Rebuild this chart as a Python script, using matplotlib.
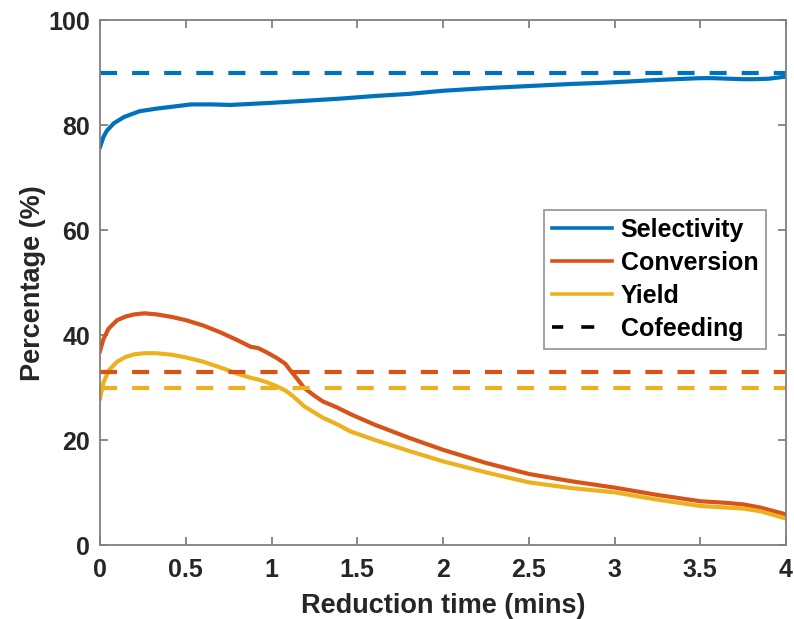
import matplotlib
matplotlib.use("Agg")
import matplotlib.pyplot as plt
from matplotlib.lines import Line2D
import numpy as np

# Data
time_sel = [0, 0.02, 0.04, 0.08, 0.14, 0.23, 0.33, 0.43, 0.53, 0.65, 0.76, 0.88, 1.0, 1.2, 1.4, 1.6, 1.8, 2.0, 2.25, 2.5, 2.75, 2.92, 3.1, 3.21, 3.35, 3.5, 3.58, 3.66, 3.75, 3.81, 3.9, 4.0]
selectivity = [75.9, 77.8, 79.0, 80.4, 81.6, 82.7, 83.2, 83.6, 84.0, 84.0, 83.9, 84.1, 84.3, 84.7, 85.1, 85.6, 86.0, 86.6, 87.1, 87.5, 87.9, 88.1, 88.4, 88.6, 88.8, 89.0, 89.0, 88.9, 88.8, 88.8, 88.9, 89.3]

time_cy = [0, 0.02, 0.05, 0.1, 0.15, 0.2, 0.26, 0.33, 0.42, 0.5, 0.6, 0.7, 0.8, 0.88, 0.92, 0.97, 1.03, 1.08, 1.11, 1.15, 1.19, 1.25, 1.3, 1.38, 1.46, 1.6, 1.8, 2.0, 2.25, 2.5, 2.75, 3.0, 3.25, 3.5, 3.65, 3.75, 3.85, 4.0]
conversion = [37.0, 39.3, 41.3, 42.9, 43.6, 44.0, 44.2, 44.0, 43.5, 42.9, 41.9, 40.6, 39.1, 37.8, 37.6, 36.8, 35.7, 34.6, 33.3, 31.7, 30.0, 28.5, 27.4, 26.3, 25.0, 23.0, 20.5, 18.2, 15.7, 13.6, 12.2, 11.0, 9.6, 8.4, 8.1, 7.8, 7.2, 5.9]
yield_ = [28.0, 31.0, 33.3, 35.0, 35.9, 36.4, 36.6, 36.6, 36.3, 35.8, 35.0, 33.9, 32.7, 31.9, 31.6, 31.1, 30.3, 29.5, 28.8, 27.7, 26.5, 25.3, 24.3, 23.1, 21.7, 20.1, 18.0, 16.0, 13.9, 12.0, 10.9, 10.1, 8.7, 7.5, 7.2, 7.0, 6.5, 5.1]

cofeed_sel = 90
cofeed_conv = 33
cofeed_yield = 30

x_ticks = [0, 0.5, 1, 1.5, 2, 2.5, 3, 3.5, 4]
x_ticklabels = ['0', '0.5', '1', '1.5', '2', '2.5', '3', '3.5', '4']
y_ticks = [0, 20, 40, 60, 80, 100]

blue = '#0072BD'
orange = '#D95319'
gold = '#EDB120'

plt.rcParams['font.family'] = ['Liberation Sans', 'DejaVu Sans']
plt.rcParams['font.weight'] = 'bold'

fig = plt.figure(figsize=(7.94, 6.19), dpi=100)
ax = fig.add_axes([0.126, 0.119, 0.864, 0.848])

lw = 3
dash = (0, (4.1, 3.6))
ax.plot(time_sel, selectivity, color=blue, lw=lw, label='Selectivity')
ax.plot(time_cy, conversion, color=orange, lw=lw, label='Conversion')
ax.plot(time_cy, yield_, color=gold, lw=lw, label='Yield')
ax.axhline(cofeed_sel, color=blue, lw=lw, ls=dash)
ax.axhline(cofeed_conv, color=orange, lw=lw, ls=dash)
ax.axhline(cofeed_yield, color=gold, lw=lw, ls=dash)

ax.set_xlim(0, 4)
ax.set_ylim(0, 100)
ax.set_xticks(x_ticks)
ax.set_xticklabels(x_ticklabels)
ax.set_yticks(y_ticks)

axcol = '#808080'
for s in ['left', 'bottom', 'right', 'top']:
    ax.spines[s].set_color(axcol)
    ax.spines[s].set_linewidth(1.3)
ax.tick_params(direction='in', length=6, width=1.3, color=axcol, labelsize=18,
               labelcolor='#262626', right=True, top=True)
ax.tick_params(axis='x', pad=9)
ax.tick_params(axis='y', pad=7)
for lab in ax.get_xticklabels() + ax.get_yticklabels():
    lab.set_fontweight('bold')

ax.set_xlabel('Reduction time (mins)', fontsize=19.5, fontweight='bold', color='#262626', labelpad=8)
ax.set_ylabel('Percentage (%)', fontsize=19.5, fontweight='bold', color='#262626', labelpad=2)

handles, labels = ax.get_legend_handles_labels()
handles.append(Line2D([], [], color='black', lw=2.6, ls=(0.5, (3.6, 5.0))))
labels.append('Cofeeding')
leg = ax.legend(handles, labels, loc='upper right', bbox_to_anchor=(0.971, 0.639), fontsize=18, frameon=True,
                fancybox=False, edgecolor='#808080', handlelength=2.4, borderpad=0.32, labelspacing=0.36,
                handletextpad=0.35, borderaxespad=0)
leg.get_frame().set_linewidth(1.3)
for t in leg.get_texts():
    t.set_fontweight('bold')
for h in leg.get_lines()[:3]:
    h.set_linewidth(2.6)

fig.savefig('out.png', dpi=100)
